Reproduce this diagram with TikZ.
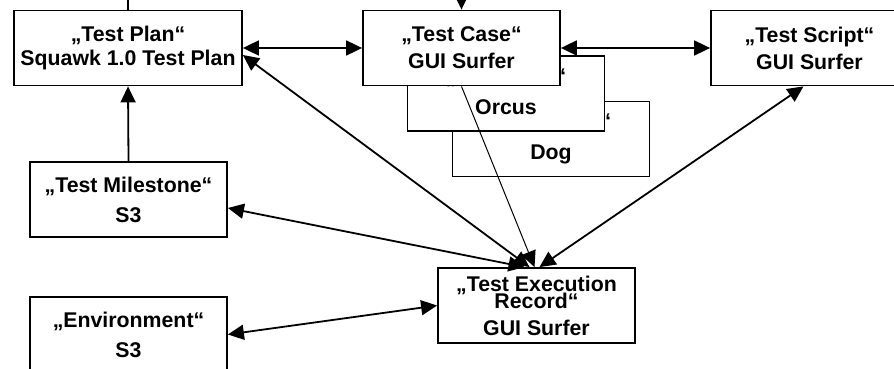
\documentclass[tikz,border=0pt]{standalone}
\usepackage{fontspec}
\setmainfont{Liberation Sans}
\usetikzlibrary{arrows.meta}

\begin{document}
\begin{tikzpicture}[x=1pt, y=-1pt,
    box/.style={draw, line width=1.8pt, fill=white, align=center,
        font=\bfseries\fontsize{21.3}{24}\selectfont,
        minimum width=197pt, minimum height=75pt, inner sep=0pt},
    one/.style={line width=1.8pt, -{Triangle[length=16pt,width=15pt]}},
    dbl/.style={line width=1.8pt, {Triangle[length=16pt,width=15pt]}-{Triangle[length=16pt,width=15pt]}}]
    \useasboundingbox (0,0) rectangle (894,369);

    % test cases stacked, back one first
    \node[box] (dog) at (551,139) {„Test Case“\\[7pt]Dog\rule[-4pt]{0pt}{0pt}};
    \node[box] (orcus) at (506,93.5) {„Test Case“\\[7pt]Orcus\rule[-4pt]{0pt}{0pt}};
    \node[box] (case) at (461.5,48) {„Test Case“\\[3pt]GUI Surfer};

    \node[box, minimum width=228pt] (plan) at (128,48) {„Test Plan“\\Squawk 1.0 Test Plan};
    \node[box] (script) at (809.5,48) {„Test Script“\\[3pt]GUI Surfer};
    \node[box] (milestone) at (128.5,199.5) {„Test Milestone“\\[6pt]S3};
    \node[box] (env) at (128.5,334.5) {„Environment“\\[6pt]S3};
    \node[box] (record) at (536.5,305.5) {„Test Execution\\[-7pt]Record“\\[3pt]GUI Surfer};

    % links leaving the picture at the top
    \coordinate (planup) at (128,-30);
    \coordinate (caseup) at (461.5,-30);
    \draw[line width=1.8pt] (plan.north) -- (planup);
    \draw[one] (caseup) -- (case.north);

    \draw[dbl] (plan.east) -- (case.west);
    \draw[dbl] (case.east) -- (script.west);
    \draw[one] (milestone.north) -- (plan.south);

    % everything meets at the execution record
    \draw[dbl] ([yshift=-7pt]plan.east) -- ([xshift=-7pt]record.north);
    \draw[one, line width=1pt] (case.south) -- ([xshift=-2pt]record.north);
    \draw[dbl] ([xshift=-6pt]script.south) -- ([xshift=3pt]record.north);
    \draw[dbl] ([yshift=-8.5pt]milestone.east) -- ([xshift=-12pt]record.north);
    \draw[dbl] (env.east) -- (record.west);
\end{tikzpicture}
\end{document}
